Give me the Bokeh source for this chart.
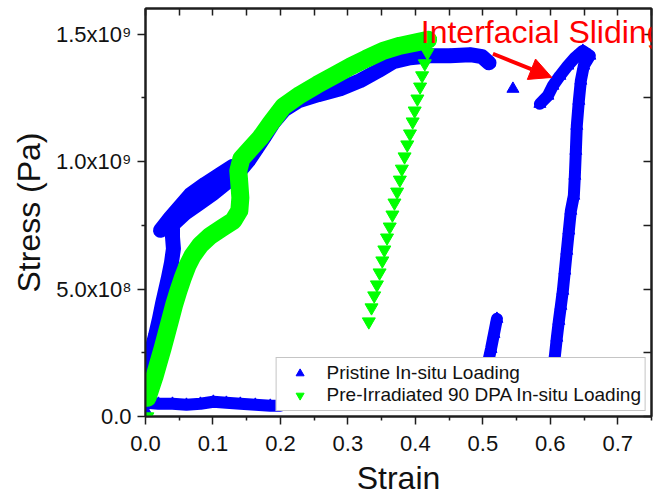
from bokeh.plotting import figure
from bokeh.models import (ColumnDataSource, FixedTicker, LinearAxis, Range1d, Label,
                          Arrow, NormalHead, Legend, LegendItem, CustomJSTickFormatter,
                          PrintfTickFormatter)
from bokeh.embed import file_html
from bokeh.resources import INLINE

# ---------------- data ----------------
x_major_ticks = [0.0, 0.1, 0.2, 0.3, 0.4, 0.5, 0.6, 0.7]
x_minor_ticks = [0.05, 0.15, 0.25, 0.35, 0.45, 0.55, 0.65, 0.75]
y_major_ticks = [0, 500000000, 1000000000, 1500000000]
y_minor_ticks = [250000000, 750000000, 1250000000]
y_tick_labels = ["0.0", "5.0x10\u2078", "1.0x10\u2079", "1.5x10\u2079"]

x_label = "Strain"
y_label = "Stress (Pa)"
series_names = ["Pristine In-situ Loading", "Pre-Irradiated 90 DPA In-situ Loading"]

# Pristine: main loading branch
pristine_load_strain = [0.0015, 0.0044, 0.0089, 0.0148, 0.0207, 0.0252, 0.0296, 0.0340, 0.0385,
                        0.0414, 0.0400, 0.0400, 0.0592, 0.0784, 0.0992, 0.1199, 0.1376, 0.1524,
                        0.1643, 0.1761, 0.1894, 0.2057, 0.2264, 0.2560, 0.2886, 0.3182, 0.3448,
                        0.3670, 0.3922, 0.4218, 0.4514, 0.4810, 0.4987, 0.5091]
pristine_load_stress = [1.40e8, 1.99e8, 2.58e8, 3.17e8, 3.83e8, 4.42e8, 4.93e8, 5.44e8, 6.03e8,
                        6.58e8, 7.05e8, 7.52e8, 7.99e8, 8.34e8, 8.73e8, 9.17e8, 9.56e8, 1.003e9,
                        1.050e9, 1.097e9, 1.152e9, 1.203e9, 1.238e9, 1.262e9, 1.285e9, 1.317e9,
                        1.356e9, 1.391e9, 1.407e9, 1.415e9, 1.415e9, 1.419e9, 1.411e9, 1.387e9]
# Pristine: upper cluster of points (0.02-0.13 strain)
pristine_cluster_strain = [0.0222, 0.0370, 0.0518, 0.0666, 0.0888, 0.1110, 0.1288]
pristine_cluster_stress = [7.30e8, 7.80e8, 8.25e8, 8.70e8, 9.12e8, 9.50e8, 9.80e8]
# Pristine: low-stress branch
pristine_base_strain = [0.0015, 0.0192, 0.0400, 0.0607, 0.0814, 0.1006, 0.1199, 0.1406,
                        0.1628, 0.1850, 0.1998]
pristine_base_stress = [5.37e7, 4.98e7, 4.98e7, 4.59e7, 4.98e7, 5.77e7, 5.37e7, 4.98e7,
                        4.59e7, 4.20e7, 4.20e7]
# Pristine: short reload near 0.52 strain
pristine_spike_strain = [0.5047, 0.5076, 0.5121, 0.5165, 0.5209]
pristine_spike_stress = [1.72e8, 2.11e8, 2.65e8, 3.24e8, 3.83e8]
# Pristine: interfacial sliding reload and final unload
pristine_slide_strain = [0.5846, 0.5964, 0.6038, 0.6142, 0.6260, 0.6364, 0.6482, 0.6586,
                         0.6497, 0.6453, 0.6423, 0.6393, 0.6379, 0.6364, 0.6349, 0.6305,
                         0.6275, 0.6245, 0.6216, 0.6186, 0.6157, 0.6127, 0.6097, 0.6068, 0.6038]
pristine_slide_stress = [1.226e9, 1.258e9, 1.297e9, 1.336e9, 1.376e9, 1.407e9, 1.434e9, 1.415e9,
                         1.376e9, 1.317e9, 1.238e9, 1.140e9, 1.042e9, 9.44e8, 8.66e8, 8.07e8,
                         7.29e8, 6.50e8, 5.72e8, 4.93e8, 4.34e8, 3.75e8, 3.09e8, 2.38e8, 1.80e8]
# Pristine: isolated points
pristine_single_strain = [0.002, 0.5446]
pristine_single_stress = [1.5e7, 1.285e9]

# Pre-irradiated: loading branch
irr_load_strain = [0.0030, 0.0074, 0.0133, 0.0192, 0.0252, 0.0311, 0.0370, 0.0429, 0.0488,
                   0.0548, 0.0622, 0.0696, 0.0814, 0.0962, 0.1140, 0.1302, 0.1391, 0.1406,
                   0.1391, 0.1376, 0.1421, 0.1554, 0.1702, 0.1850, 0.2042, 0.2294, 0.2546,
                   0.2812, 0.3034, 0.3271, 0.3522, 0.3774, 0.3996, 0.4188]
irr_load_stress = [7.33e7, 1.09e8, 1.56e8, 2.11e8, 2.66e8, 3.24e8, 3.83e8, 4.42e8, 4.93e8,
                   5.40e8, 5.91e8, 6.30e8, 6.73e8, 7.09e8, 7.40e8, 7.68e8, 8.07e8, 8.58e8,
                   9.13e8, 9.64e8, 1.011e9, 1.050e9, 1.093e9, 1.148e9, 1.215e9, 1.262e9,
                   1.301e9, 1.340e9, 1.372e9, 1.403e9, 1.434e9, 1.454e9, 1.466e9, 1.477e9]
# Pre-irradiated: unloading branch (individual markers)
irr_unload_strain = [0.422, 0.418, 0.414, 0.410, 0.407, 0.403, 0.399, 0.396, 0.392, 0.388,
                     0.384, 0.380, 0.377, 0.373, 0.369, 0.366, 0.362, 0.358, 0.354, 0.351,
                     0.347, 0.343, 0.339, 0.335, 0.331]
irr_unload_stress = [1.473e9, 1.427e9, 1.384e9, 1.337e9, 1.293e9, 1.246e9, 1.199e9, 1.156e9,
                     1.109e9, 1.066e9, 1.019e9, 9.71e8, 9.28e8, 8.81e8, 8.38e8, 7.91e8, 7.44e8,
                     7.01e8, 6.54e8, 6.11e8, 5.64e8, 5.17e8, 4.74e8, 4.27e8, 3.72e8]
irr_single_strain = [0.005]
irr_single_stress = [3e6]

annotation_text = "Interfacial Sliding"
annotation_x, annotation_y = 0.408, 1.508e9
arrow_start = (0.515, 1.4225e9)
arrow_end = (0.6023, 1.3297e9)

# ---------------- styling ----------------
FONT = "Liberation Sans"
BLUE = "#0000FF"
GREEN = "#00FF00"
RED = "#FF0000"
AX = "#1e1e1e"

p = figure(frame_width=506, frame_height=408,
           x_range=Range1d(0, 0.75), y_range=Range1d(0, 1.6e9),
           output_backend="svg", toolbar_location=None,
           min_border_left=145, min_border_right=15, min_border_top=8, min_border_bottom=83,
           background_fill_color="white", border_fill_color="white")
p.grid.visible = False
p.outline_line_color = AX
p.outline_line_width = 2

# bottom axis
xa = p.xaxis[0]
xa.ticker = FixedTicker(ticks=x_major_ticks, minor_ticks=x_minor_ticks)
xa.formatter = PrintfTickFormatter(format="%.1f")
xa.axis_label = x_label
# left axis
ya = p.yaxis[0]
ya.ticker = FixedTicker(ticks=y_major_ticks, minor_ticks=y_minor_ticks)
ya.major_label_overrides = {t: l for t, l in zip(y_major_ticks, y_tick_labels)}
ya.axis_label = y_label
for ax in (xa, ya):
    ax.axis_line_color = AX
    ax.axis_line_width = 2
    ax.major_tick_line_color = AX
    ax.minor_tick_line_color = AX
    ax.major_tick_line_width = 1.5
    ax.minor_tick_line_width = 1.5
    ax.major_tick_out = 8
    ax.major_tick_in = 0
    ax.minor_tick_out = 4
    ax.minor_tick_in = 0
    ax.major_label_text_font = FONT
    ax.major_label_text_font_size = "22px"
    ax.major_label_text_color = "#111111"
    ax.axis_label_text_font = FONT
    ax.axis_label_text_font_size = "32px"
    ax.axis_label_text_font_style = "normal"
    ax.axis_label_text_color = "#111111"
xa.major_label_standoff = 11
xa.axis_label_standoff = 6
ya.major_label_standoff = 6
ya.axis_label_standoff = 6

blank = CustomJSTickFormatter(code="return ''")
top_axis = LinearAxis(ticker=FixedTicker(ticks=sorted(x_major_ticks + x_minor_ticks)),
                      formatter=blank, major_tick_in=7, major_tick_out=0,
                      minor_tick_in=0, minor_tick_out=0, major_label_standoff=0,
                      major_label_text_font_size="1px", axis_line_color=AX, axis_line_width=2,
                      major_tick_line_color=AX, major_tick_line_width=1.5)
right_axis = LinearAxis(ticker=FixedTicker(ticks=sorted(y_major_ticks + y_minor_ticks)),
                        formatter=blank, major_tick_in=8, major_tick_out=0,
                        minor_tick_in=0, minor_tick_out=0, major_label_standoff=0,
                        major_label_text_font_size="1px", axis_line_color=AX, axis_line_width=2,
                        major_tick_line_color=AX, major_tick_line_width=1.5)
p.add_layout(top_axis, "above")
p.add_layout(right_axis, "right")

# ---------------- glyphs ----------------
def band(xs, ys, color, lw):
    p.line(xs, ys, line_color=color, line_width=lw, line_join="round", line_cap="round")

band(pristine_load_strain, pristine_load_stress, BLUE, 15)
band(pristine_cluster_strain, pristine_cluster_stress, BLUE, 15)
band(pristine_base_strain, pristine_base_stress, BLUE, 12)
band(pristine_spike_strain, pristine_spike_stress, BLUE, 12)
band(pristine_slide_strain, pristine_slide_stress, BLUE, 12)

blue_r = p.scatter(pristine_load_strain, pristine_load_stress, marker="triangle", size=12,
                   color=BLUE)
for xs, ys in [(pristine_cluster_strain, pristine_cluster_stress),
               (pristine_base_strain, pristine_base_stress),
               (pristine_spike_strain, pristine_spike_stress),
               (pristine_slide_strain, pristine_slide_stress),
               (pristine_single_strain, pristine_single_stress)]:
    p.scatter(xs, ys, marker="triangle", size=12, color=BLUE)

band(irr_load_strain, irr_load_stress, GREEN, 18)
green_r = p.scatter(irr_load_strain, irr_load_stress, marker="inverted_triangle", size=12,
                    color=GREEN)
p.scatter(irr_unload_strain, irr_unload_stress, marker="inverted_triangle", size=13, color=GREEN)
p.scatter(irr_single_strain, irr_single_stress, marker="inverted_triangle", size=10, color=GREEN)

# ---------------- legend ----------------
legend = Legend(items=[LegendItem(label=series_names[0], renderers=[blue_r]),
                       LegendItem(label=series_names[1], renderers=[green_r])],
                location="bottom_right", margin=5, padding=4, spacing=0,
                glyph_width=38, glyph_height=20, label_standoff=8,
                label_text_font=FONT, label_text_font_size="19px", label_text_color="#111111",
                border_line_color="#8c8c8c", border_line_width=1.5,
                background_fill_color="white", background_fill_alpha=1.0)
p.add_layout(legend)

# ---------------- annotation ----------------
p.add_layout(Arrow(end=NormalHead(size=22, fill_color=RED, line_color=RED),
                   x_start=arrow_start[0], y_start=arrow_start[1],
                   x_end=arrow_end[0], y_end=arrow_end[1],
                   line_color=RED, line_width=4))
p.add_layout(Label(x=annotation_x, y=annotation_y, text=annotation_text,
                   text_color=RED, text_font=FONT, text_font_size="32px",
                   text_baseline="middle", text_align="left"))

open("out.html", "w").write(file_html(p, INLINE))
